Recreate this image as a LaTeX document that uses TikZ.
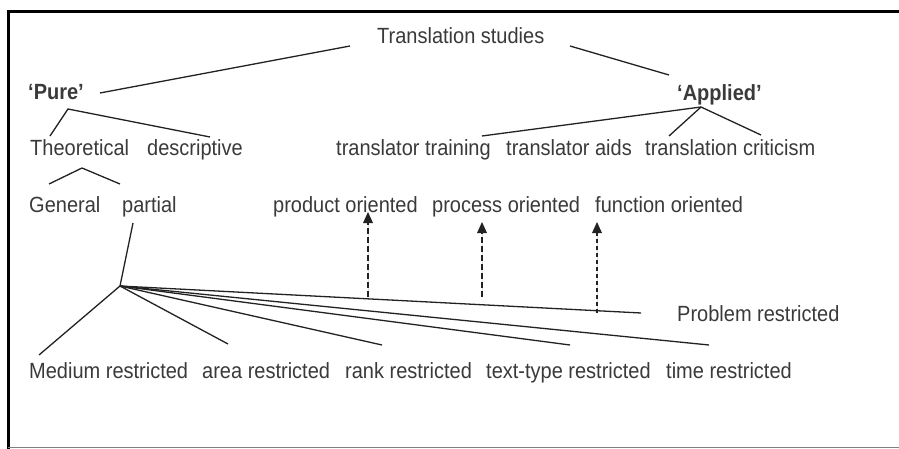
\documentclass[tikz,border=0pt]{standalone}
\usepackage{fontspec}
\setmainfont{Liberation Sans}
\usetikzlibrary{arrows.meta}
\definecolor{txt}{HTML}{3A3A3A}
\definecolor{ln}{HTML}{222222}
\begin{document}
\begin{tikzpicture}[x=1pt,y=-1pt,
  lbl/.style={anchor=base west,inner sep=0pt,text=txt,font=\fontsize{20}{24}\selectfont,yscale=1.1},
  blbl/.style={lbl,font=\fontsize{20}{24}\selectfont\bfseries},
  link/.style={draw=ln,line width=1.3pt},
  tipx/.style={-{Triangle[width=10pt,length=11pt,line width=0pt]}},
  darrow/.style={draw=ln,fill=ln,line width=1.4pt,dash pattern=on 6pt off 3pt,tipx},
  farrow/.style={draw=ln,fill=ln,line width=1.2pt,dash pattern=on 4pt off 3pt,tipx}]
\useasboundingbox (0,0) rectangle (899,449);
\fill[white] (0,0) rectangle (899,449);
% frame
\draw[line width=3pt,black] (899,12) -- (8,12) -- (8,449);
\draw[line width=1pt,gray] (8,447) -- (899,447);
% labels
\node[lbl] (ts) at (377,44) {Translation studies};
\node[blbl] (pure) at (28,100) {‘Pure’};
\node[blbl] (applied) at (677,101) {‘Applied’};
\node[lbl] (theo) at (30,156) {Theoretical};
\node[lbl] (desc) at (147,156) {descriptive};
\node[lbl] (tt) at (336,156) {translator training};
\node[lbl] (ta) at (506,156) {translator aids};
\node[lbl] (tc) at (645,156) {translation criticism};
\node[lbl] (gen) at (29,212) {General};
\node[lbl] (part) at (122,212) {partial};
\node[lbl] (prod) at (273,212) {product oriented};
\node[lbl] (proc) at (432,212) {process oriented};
\node[lbl] (func) at (595,212) {function oriented};
\node[lbl] (prob) at (677,321) {Problem restricted};
\node[lbl] (med) at (29,378) {Medium restricted};
\node[lbl] (area) at (202,378) {area restricted};
\node[lbl] (rank) at (345,378) {rank restricted};
\node[lbl] (ttype) at (486,378) {text-type restricted};
\node[lbl] (time) at (666,378) {time restricted};
% connector points
\coordinate (tsL) at (350,46);
\coordinate (tsR) at (570,46);
\coordinate (pureE) at (100,93);
\coordinate (applW) at (669,75);
\coordinate (pureA) at (68,109);
\coordinate (theoT) at (50,136);
\coordinate (descT) at (210,137);
\coordinate (theoA) at (82,168);
\coordinate (genT) at (49,184);
\coordinate (partT) at (120,184);
\coordinate (applA) at (701,107);
\coordinate (ttT) at (482,136);
\coordinate (taT) at (669,136);
\coordinate (tcT) at (761,135);
\coordinate (partB) at (133,223);
\coordinate (fan) at (120,286);
\coordinate (medT) at (39,355);
\coordinate (areaT) at (228,344);
\coordinate (rankT) at (382,345);
\coordinate (ttypeT) at (570,345);
\coordinate (timeT) at (709,345);
\coordinate (probT) at (641,313);
\coordinate (a1b) at (368,297);
\coordinate (a1t) at (368,212);
\coordinate (a2b) at (482,297);
\coordinate (a2t) at (482,222);
\coordinate (a3b) at (597,313);
\coordinate (a3t) at (597,222);
% connectors
\draw[link] (tsL) -- (pureE);
\draw[link] (tsR) -- (applW);
\draw[link] (theoT) -- (pureA) -- (descT);
\draw[link] (genT) -- (theoA) -- (partT);
\draw[link] (applA) -- (ttT);
\draw[link] (applA) -- (taT);
\draw[link] (applA) -- (tcT);
\draw[link] (partB) -- (fan);
\draw[link] (fan) -- (medT);
\draw[link] (fan) -- (areaT);
\draw[link] (fan) -- (rankT);
\draw[link] (fan) -- (ttypeT);
\draw[link] (fan) -- (timeT);
\draw[link] (fan) -- (probT);
\draw[darrow] (a1b) -- (a1t);
\draw[darrow] (a2b) -- (a2t);
\draw[farrow] (a3b) -- (a3t);
\end{tikzpicture}
\end{document}
